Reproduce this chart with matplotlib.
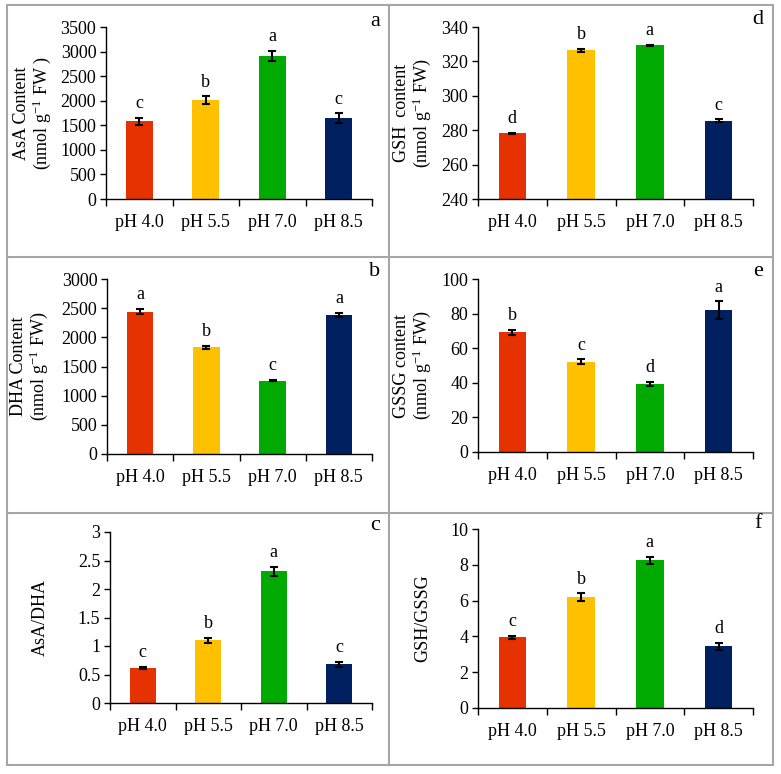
import matplotlib
matplotlib.use("Agg")
import matplotlib.pyplot as plt
from matplotlib.patches import Rectangle
from matplotlib.lines import Line2D
from matplotlib.ticker import FuncFormatter, FixedLocator


plt.rcParams["font.family"] = ["Liberation Serif", "DejaVu Serif"]
plt.rcParams["mathtext.fontset"] = "custom"
plt.rcParams["mathtext.rm"] = "Liberation Serif"
plt.rcParams["mathtext.it"] = "Liberation Serif:italic"

W, H = 781, 774

CATEGORIES = ["pH 4.0", "pH 5.5", "pH 7.0", "pH 8.5"]
COLORS = ["#E63200", "#FFC000", "#00AA00", "#002060"]

ASA = [1580, 2010, 2910, 1640]
ASA_ERR = [70, 80, 100, 100]
ASA_SIG = ["c", "b", "a", "c"]

DHA = [2440, 1830, 1260, 2380]
DHA_ERR = [45, 30, 8, 35]
DHA_SIG = ["a", "b", "c", "a"]

ASA_DHA = [0.62, 1.10, 2.31, 0.68]
ASA_DHA_ERR = [0.02, 0.04, 0.08, 0.04]
ASA_DHA_SIG = ["c", "b", "a", "c"]

GSH = [278.2, 326.4, 329.3, 285.4]
GSH_ERR = [0.4, 0.8, 0.3, 0.9]
GSH_SIG = ["d", "b", "a", "c"]

GSSG = [69.2, 52.2, 39.5, 82.0]
GSSG_ERR = [1.3, 1.3, 1.2, 5.0]
GSSG_SIG = ["b", "c", "d", "a"]

GSH_GSSG = [3.95, 6.2, 8.25, 3.45]
GSH_GSSG_ERR = [0.07, 0.2, 0.2, 0.2]
GSH_GSSG_SIG = ["c", "b", "a", "d"]

UNIT = "(nmol g$^{-1}$ FW)"

# (values, errors, letters, ylabel, ylim, ystep, panel letter, pixel box, label x centre px)
PANELS = [
    (ASA, ASA_ERR, ASA_SIG, "AsA Content\n(nmol g$^{-1}$ FW )", (0, 3500), 500, "a",
     (106, 27, 372, 199), 33),
    (DHA, DHA_ERR, DHA_SIG, "DHA Content\n" + UNIT, (0, 3000), 500, "b",
     (107, 279, 372, 454), 30),
    (ASA_DHA, ASA_DHA_ERR, ASA_DHA_SIG, "AsA/DHA", (0, 3), 0.5, "c",
     (110, 532, 372, 703), 40),
    (GSH, GSH_ERR, GSH_SIG, "GSH  content\n" + UNIT, (240, 340), 20, "d",
     (478, 27, 753, 199), 413),
    (GSSG, GSSG_ERR, GSSG_SIG, "GSSG content\n" + UNIT, (0, 100), 20, "e",
     (478, 279, 753, 452), 413),
    (GSH_GSSG, GSH_GSSG_ERR, GSH_GSSG_SIG, "GSH/GSSG", (0, 10), 2, "f",
     (478, 529, 753, 708), 423),
]


def fmt(v, _pos):
    return f"{v:g}"


def draw_panel(fig, vals, errs, sig, ylabel, ylim, ystep, letter, box, labx):
    x0, y0, x1, y1 = box
    ax = fig.add_axes([x0 / W, 1 - y1 / H, (x1 - x0) / W, (y1 - y0) / H])
    x = list(range(len(CATEGORIES)))
    ax.bar(x, vals, width=0.4, color=COLORS, zorder=2)
    ax.errorbar(x, vals, yerr=errs, fmt="none", ecolor="black",
                elinewidth=1.5, capsize=2.8, capthick=1.5, zorder=3)
    for xi, v, e, s in zip(x, vals, errs, sig):
        ax.annotate(s, (xi, v + e), xytext=(0, 7), textcoords="offset points",
                    ha="center", va="baseline", fontsize=13)

    ax.set_xlim(-0.5, len(CATEGORIES) - 0.5)
    ax.set_ylim(*ylim)
    ticks = []
    t = ylim[0]
    while t <= ylim[1] + 1e-9:
        ticks.append(round(t, 6))
        t += ystep
    ax.set_yticks(ticks)
    ax.yaxis.set_major_formatter(FuncFormatter(fmt))
    ax.set_xticks(x)
    ax.set_xticklabels(CATEGORIES)
    ax.xaxis.set_minor_locator(FixedLocator([i - 0.5 for i in range(len(CATEGORIES) + 1)]))
    ax.tick_params(axis="x", which="major", length=0, pad=11, labelsize=13)
    ax.tick_params(axis="x", which="minor", length=5, width=1, direction="out")
    ax.tick_params(axis="y", length=4, width=1, direction="out", pad=3, labelsize=13)

    for side in ("top", "right"):
        ax.spines[side].set_visible(False)
    for side in ("left", "bottom"):
        ax.spines[side].set_linewidth(1.0)
        ax.spines[side].set_color("black")

    ax.set_ylabel(ylabel, fontsize=13, linespacing=1.0, va="center", ha="center")
    ax.yaxis.set_label_coords((labx - x0) / (x1 - x0), 0.5)
    return ax


def main():
    fig = plt.figure(figsize=(W / 100, H / 100), dpi=100)
    fig.patch.set_facecolor("white")

    for p in PANELS:
        draw_panel(fig, *p)

    # panel letters
    corner = {"a": (375, 21), "b": (375, 272), "c": (375, 526),
              "d": (758, 20), "e": (758, 272), "f": (758, 524)}
    for k, (px, py) in corner.items():
        fig.text(px / W, 1 - py / H, k, fontsize=16, ha="center", va="center")

    # table-like cell borders
    grey = "#A6A6A6"
    fig.add_artist(Rectangle((7 / W, 1 - 765 / H), (773 - 7) / W, (765 - 5) / H,
                             transform=fig.transFigure, fill=False,
                             edgecolor=grey, linewidth=1.5))
    for yy in (257, 513):
        fig.add_artist(Line2D([7 / W, 773 / W], [1 - yy / H, 1 - yy / H],
                              transform=fig.transFigure, color=grey, linewidth=1.5))
    fig.add_artist(Line2D([389 / W, 389 / W], [1 - 5 / H, 1 - 765 / H],
                          transform=fig.transFigure, color=grey, linewidth=1.5))

    fig.savefig("out.png", dpi=100)
    plt.close(fig)


if __name__ == "__main__":
    main()
